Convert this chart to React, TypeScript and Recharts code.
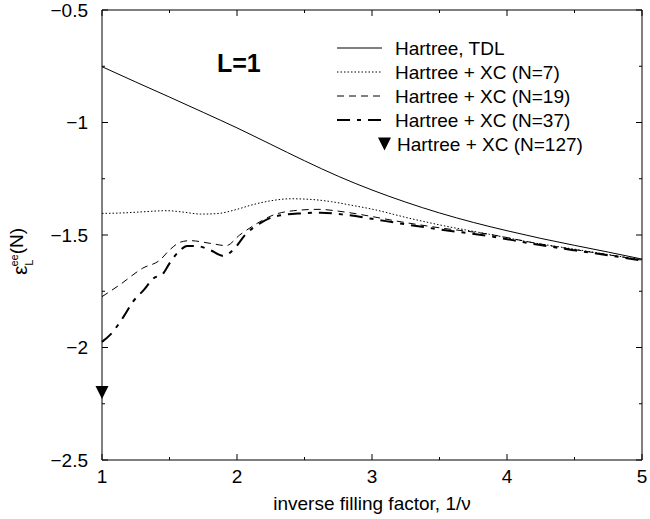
import React from 'react';
import { ComposedChart, Line, Scatter, XAxis, YAxis, Legend, Customized } from 'recharts';

const FONT = 'Liberation Sans, Arial, Helvetica, sans-serif';

const X_TICKS = [1, 1.5, 2, 2.5, 3, 3.5, 4, 4.5, 5];
const Y_TICKS = [-2.5, -2.25, -2, -1.75, -1.5, -1.25, -1, -0.75, -0.5];

const TDL_X = [1, 1.25, 1.5, 1.75, 2, 2.25, 2.5, 2.75, 3, 3.25, 3.5, 3.75, 4, 4.25, 4.5, 4.75, 5];
const TDL_Y = [-0.752, -0.82, -0.887, -0.955, -1.024, -1.097, -1.17, -1.239, -1.3, -1.354, -1.402, -1.444, -1.481, -1.515, -1.546, -1.576, -1.607];

const N7_X = [1, 1.15, 1.3, 1.48, 1.6, 1.73, 1.85, 2.0, 2.1, 2.25, 2.4, 2.55, 2.7, 2.85, 3.0, 3.28, 3.5, 3.87, 4.2, 4.5, 4.75, 5];
const N7_Y = [-1.404, -1.402, -1.397, -1.392, -1.398, -1.407, -1.405, -1.386, -1.368, -1.348, -1.339, -1.342, -1.352, -1.368, -1.385, -1.426, -1.455, -1.497, -1.535, -1.563, -1.587, -1.61];

const N19_X = [1, 1.13, 1.3, 1.43, 1.5, 1.58, 1.65, 1.8, 1.92, 2.02, 2.15, 2.27, 2.42, 2.6, 2.8, 3.0, 3.2, 3.5, 3.87, 4.2, 4.5, 4.75, 5];
const N19_Y = [-1.774, -1.722, -1.648, -1.611, -1.567, -1.532, -1.525, -1.537, -1.547, -1.5, -1.448, -1.411, -1.392, -1.386, -1.398, -1.418, -1.44, -1.468, -1.497, -1.535, -1.565, -1.588, -1.612];

const N37_X = [1, 1.06, 1.16, 1.23, 1.31, 1.38, 1.45, 1.5, 1.58, 1.63, 1.7, 1.8, 1.9, 1.97, 2.07, 2.17, 2.29, 2.47, 2.62, 2.8, 3.0, 3.2, 3.5, 3.87, 4.2, 4.5, 4.75, 5];
const N37_Y = [-1.975, -1.944, -1.863, -1.796, -1.744, -1.693, -1.673, -1.626, -1.567, -1.549, -1.549, -1.567, -1.593, -1.567, -1.493, -1.448, -1.416, -1.404, -1.401, -1.41, -1.428, -1.448, -1.475, -1.505, -1.54, -1.568, -1.59, -1.614];

const N127_X = [1];
const N127_Y = [-2.2];

const LEGEND_LABELS = ['Hartree, TDL', 'Hartree + XC (N=7)', 'Hartree + XC (N=19)', 'Hartree + XC (N=37)', 'Hartree + XC (N=127)'];

const zip = (xs: number[], ys: number[]) => xs.map((x, i) => ({ x, y: ys[i] }));
const tdlData = zip(TDL_X, TDL_Y);
const n7Data = zip(N7_X, N7_Y);
const n19Data = zip(N19_X, N19_Y);
const n37Data = zip(N37_X, N37_Y);
const n127Data = zip(N127_X, N127_Y);

const fmt = (v: number) => String(v).replace('-', '\u2212');
const isMajor = (v: number) => Math.abs(v * 2 - Math.round(v * 2)) < 1e-9;

const BottomTick = (p: any) => {
  const v = p.payload.value;
  const major = Number.isInteger(v);
  return (
    <g>
      <line x1={p.x} y1={p.y} x2={p.x} y2={p.y - (major ? 6 : 3)} stroke="#000" strokeWidth={1} />
      {major && (
        <text x={p.x} y={p.y + 23} textAnchor="middle" fontSize={19} fontFamily={FONT} fill="#000">
          {v}
        </text>
      )}
    </g>
  );
};
const TopTick = (p: any) => {
  const v = p.payload.value;
  const major = Number.isInteger(v);
  return <line x1={p.x} y1={p.y} x2={p.x} y2={p.y + (major ? 6 : 3)} stroke="#000" strokeWidth={1} />;
};
const LeftTick = (p: any) => {
  const v = p.payload.value;
  const major = isMajor(v);
  return (
    <g>
      <line x1={p.x} y1={p.y} x2={p.x + (major ? 6 : 3)} y2={p.y} stroke="#000" strokeWidth={1} />
      {major && (
        <text x={p.x - 14} y={p.y} dy="0.35em" textAnchor="end" fontSize={19} fontFamily={FONT} fill="#000">
          {fmt(v)}
        </text>
      )}
    </g>
  );
};
const RightTick = (p: any) => {
  const v = p.payload.value;
  const major = isMajor(v);
  return <line x1={p.x} y1={p.y} x2={p.x - (major ? 6 : 3)} y2={p.y} stroke="#000" strokeWidth={1} />;
};

const Triangle = (p: any) => {
  const { cx, cy } = p;
  if (cx == null || cy == null) return null;
  return <polygon points={`${cx - 6.5},${cy - 6.5} ${cx + 6.5},${cy - 6.5} ${cx},${cy + 6.5}`} fill="#000" />;
};

const LegendContent = () => {
  const rowY = [18, 42, 66, 90, 114];
  const styles = [
    { dash: undefined, w: 1 },
    { dash: '1.5 2', w: 1 },
    { dash: '7 5', w: 1 },
    { dash: '13 7 4 7', w: 2 },
  ];
  return (
    <svg width={300} height={130} style={{ display: 'block' }}>
      {styles.map((s, i) => (
        <line key={i} x1={7} x2={52} y1={rowY[i]} y2={rowY[i]} stroke="#000" strokeWidth={s.w} strokeDasharray={s.dash} />
      ))}
      <polygon points={`${48},${rowY[4] - 6.5} ${61},${rowY[4] - 6.5} ${54.5},${rowY[4] + 6.5}`} fill="#000" />
      {LEGEND_LABELS.map((t, i) => (
        <text key={t} x={i === 4 ? 67 : 65} y={rowY[i] + 6.5} fontSize={19} fontFamily={FONT} fill="#000">
          {t}
        </text>
      ))}
    </svg>
  );
};

const Labels = () => (
  <g fontFamily={FONT} fill="#000">
    <text x={217} y={72} fontSize={25} fontWeight="bold">L=1</text>
    <text x={372} y={510} fontSize={19} textAnchor="middle">inverse filling factor, 1/ν</text>
    <text transform="translate(27,275) rotate(-90)" fontSize={19}>
      <tspan fontSize={21}>ε</tspan>
      <tspan fontSize={11} dy={6}>L</tspan>
      <tspan fontSize={11} dx={-7} dy={-15}>ee</tspan>
      <tspan fontSize={19} dy={5}>(N)</tspan>
    </text>
  </g>
);

export default function App() {
  return (
    <div style={{ position: 'absolute', left: 0, top: 0, width: 650, height: 519, background: '#fff' }}>
      <ComposedChart width={650} height={519} margin={{ top: 9, right: 7, bottom: 29, left: 42 }}>
        <XAxis xAxisId={0} dataKey="x" type="number" domain={[1, 5]} ticks={X_TICKS} interval={0}
          height={30} tickSize={0} tickMargin={0} tick={<BottomTick />} axisLine={{ stroke: '#000' }} tickLine={false} />
        <XAxis xAxisId="top" orientation="top" dataKey="x" type="number" domain={[1, 5]} ticks={X_TICKS} interval={0}
          height={1} tickSize={0} tickMargin={0} tick={<TopTick />} axisLine={{ stroke: '#000' }} tickLine={false} />
        <YAxis yAxisId={0} type="number" domain={[-2.5, -0.5]} ticks={Y_TICKS} interval={0}
          width={60} tickSize={0} tickMargin={0} tick={<LeftTick />} axisLine={{ stroke: '#000' }} tickLine={false} />
        <YAxis yAxisId="right" orientation="right" type="number" domain={[-2.5, -0.5]} ticks={Y_TICKS} interval={0}
          width={1} tickSize={0} tickMargin={0} tick={<RightTick />} axisLine={{ stroke: '#000' }} tickLine={false} />
        <Line xAxisId="top" yAxisId="right" data={tdlData} dataKey="y" stroke="none" dot={false} legendType="none" isAnimationActive={false} />
        <Line data={tdlData} dataKey="y" type="monotone" stroke="#000" strokeWidth={1} dot={false} isAnimationActive={false} />
        <Line data={n7Data} dataKey="y" type="monotone" stroke="#000" strokeWidth={1} strokeDasharray="1.5 2" dot={false} isAnimationActive={false} />
        <Line data={n19Data} dataKey="y" type="monotone" stroke="#000" strokeWidth={1} strokeDasharray="7 5" dot={false} isAnimationActive={false} />
        <Line data={n37Data} dataKey="y" type="monotone" stroke="#000" strokeWidth={2} strokeDasharray="13 7 4 7" dot={false} isAnimationActive={false} />
        <Scatter data={n127Data} dataKey="y" shape={<Triangle />} isAnimationActive={false} />
        <Legend layout="horizontal" verticalAlign="middle" content={<LegendContent />}
          wrapperStyle={{ position: 'absolute', left: 330, top: 30, width: 300, height: 130 }} />
        <Customized component={<Labels />} />
      </ComposedChart>
    </div>
  );
}
